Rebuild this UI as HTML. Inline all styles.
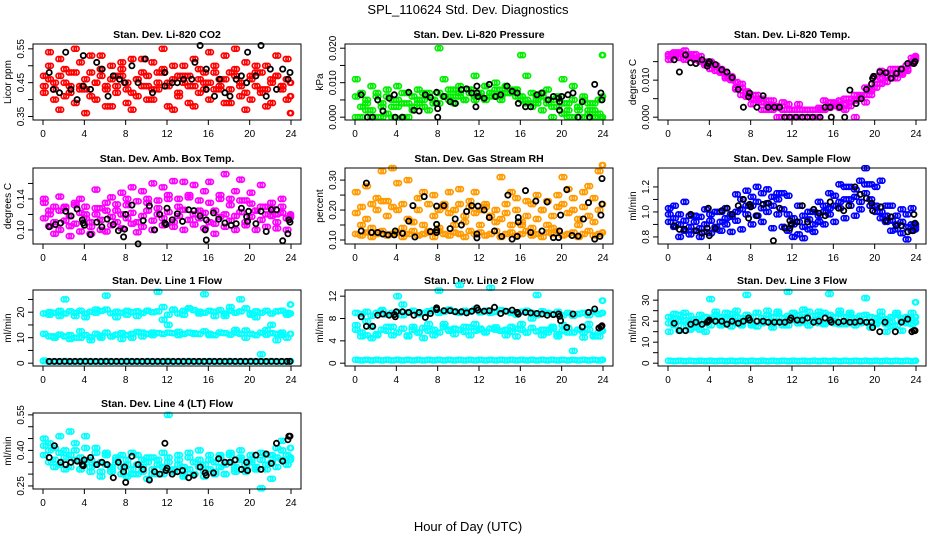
<!DOCTYPE html>
<html><head><meta charset="utf-8"><style>
html,body{margin:0;padding:0;background:#fff;}
svg{display:block;font-family:"Liberation Sans",sans-serif;}
</style></head><body>
<svg id="chart" width="936" height="540" viewBox="0 0 936 540" xmlns="http://www.w3.org/2000/svg">
<rect width="936" height="540" fill="#fff"/>
<text x="468" y="14" font-size="13" text-anchor="middle">SPL_110624  Std. Dev. Diagnostics</text>
<text x="468" y="531" font-size="13" text-anchor="middle">Hour of Day (UTC)</text>
</svg>
<script>
const H=[0,0.5,1,1.5,2,2.5,3,3.5,4,4.5,5,5.5,6,6.5,7,7.5,8,8.5,9,9.5,10,10.5,11,11.5,12,12.5,13,13.5,14,14.5,15,15.5,16,16.5,17,17.5,18,18.5,19,19.5,20,20.5,21,21.5,22,22.5,23,23.5,24];
const H2=[0.25,0.75,1.25,1.75,2.25,2.75,3.25,3.75,4.25,4.75,5.25,5.75,6.25,6.75,7.25,7.75,8.25,8.75,9.25,9.75,10.25,10.75,11.25,11.75,12.25,12.75,13.25,13.75,14.25,14.75,15.25,15.75,16.25,16.75,17.25,17.75,18.25,18.75,19.25,19.75,20.25,20.75,21.25,21.75,22.25,22.75,23.25,23.75,23.9];
const xTicks=[0,4,8,12,16,20,24];

const co2A=[0.44,0.46,0.43,0.47,0.45,0.42,0.48,0.44,0.46,0.41,0.45,0.47,0.43,0.46,0.44,0.49,0.45,0.42,0.46,0.44,0.47,0.43,0.45,0.48,0.44,0.46,0.42,0.45,0.47,0.44,0.46,0.43,0.45,0.48,0.44,0.46,0.43,0.47,0.45,0.42,0.46,0.44,0.48,0.43,0.45,0.47,0.44,0.46,0.45];
const co2B=[0.42,0.50,0.40,0.52,0.41,0.48,0.39,0.51,0.43,0.53,0.40,0.49,0.38,0.50,0.42,0.47,0.39,0.52,0.41,0.48,0.40,0.51,0.43,0.49,0.38,0.50,0.41,0.47,0.39,0.52,0.42,0.48,0.40,0.50,0.43,0.53,0.39,0.49,0.41,0.51,0.40,0.48,0.42,0.50,0.39,0.47,0.43,0.52,0.41];
const co2C=[0.47,0.54,0.45,0.37,0.49,0.44,0.55,0.43,0.36,0.48,0.45,0.53,0.44,0.38,0.47,0.51,0.43,0.37,0.46,0.52,0.44,0.40,0.48,0.55,0.45,0.37,0.47,0.50,0.44,0.38,0.49,0.45,0.54,0.43,0.46,0.39,0.48,0.55,0.44,0.37,0.47,0.50,0.43,0.38,0.46,0.53,0.44,0.40,0.36];
const co2Black=[[0.6,0.48],[1.0,0.43],[1.6,0.42],[2.2,0.54],[2.7,0.43],[3.3,0.40],[3.9,0.53],[3.9,0.44],[4.6,0.43],[5.2,0.51],[5.7,0.49],[6.3,0.41],[6.8,0.47],[7.4,0.46],[7.9,0.45],[8.6,0.50],[9.2,0.45],[9.9,0.52],[10.6,0.42],[11.8,0.48],[11.8,0.44],[12.5,0.45],[13.0,0.45],[13.6,0.46],[14.4,0.46],[14.7,0.51],[15.2,0.56],[15.8,0.43],[15.8,0.49],[16.6,0.41],[17.1,0.46],[17.6,0.42],[18.1,0.41],[18.7,0.46],[19.2,0.47],[19.7,0.45],[19.8,0.54],[20.6,0.47],[21.1,0.56],[21.6,0.41],[22.0,0.49],[22.6,0.43],[23.2,0.49],[23.7,0.46],[23.9,0.48]];

const presA=[0.006,0.003,0.005,0.002,0.007,0.004,0.006,0.003,0.005,0.007,0.004,0.006,0.005,0.007,0.006,0.005,0.007,0.006,0.008,0.006,0.007,0.005,0.008,0.006,0.007,0.009,0.007,0.008,0.006,0.009,0.007,0.008,0.006,0.005,0.007,0.004,0.006,0.005,0.003,0.006,0.004,0.002,0.005,0.003,0.006,0.004,0.002,0.005,0.006];
const presB=[0,0,0.002,0,0,0,0.001,0,0.003,0,0,0.002,0.004,0.003,0.002,0.005,0.004,0.006,0.005,0.004,0.006,0.005,0.007,0.005,0.006,0.005,0.007,0.006,0.005,0.007,0.008,0.006,0.005,0.004,0.003,0.005,0.002,0.004,0,0.003,0.001,0,0,0.002,0,0.001,0,0,0];
const presC=[0.011,0.007,0.004,0.009,0.006,0.003,0.008,0.005,0.009,0.004,0.007,0.003,0.008,0.005,0.007,0.004,0.020,0.011,0.006,0.008,0.009,0.005,0.008,0.012,0.007,0.009,0.006,0.010,0.008,0.009,0.007,0.008,0.018,0.012,0.004,0.006,0.007,0.008,0.005,0.006,0.011,0.004,0.009,0.003,0.005,0.002,0.004,0.001,0.018];
const presBlack=[[0.6,0.0065],[1.2,0],[1.7,0],[2.2,0.005],[2.7,0.0018],[3.3,0.0055],[3.8,0.0065],[3.9,0],[4.6,0],[5.2,0.0072],[5.7,0.002],[6.2,0.0018],[6.8,0.0065],[7.3,0.0057],[7.9,0.0072],[7.9,0.004],[8.0,0.0025],[8.0,0],[8.6,0.006],[9.2,0.0045],[9.7,0.004],[10.3,0.008],[10.8,0.0082],[11.3,0.007],[11.7,0.003],[11.8,0.007],[11.8,0.009],[11.9,0.006],[12.5,0.0055],[13.0,0.0095],[13.6,0.006],[14.1,0.0065],[14.7,0.009],[15.2,0.0075],[15.7,0.007],[15.8,0.004],[16.5,0.003],[17.0,0.003],[17.6,0.0065],[18.1,0.007],[18.7,0.005],[19.2,0.006],[19.7,0.0055],[19.8,0.0045],[19.8,0.002],[20.0,0.006],[20.6,0.0065],[21.1,0.007],[21.6,0],[22.0,0.0045],[22.7,0],[23.2,0.0095],[23.8,0.007],[23.9,0.005]];

const tempA=[0.0165,0.017,0.016,0.017,0.0165,0.016,0.0155,0.015,0.0145,0.014,0.013,0.012,0.011,0.0095,0.008,0.007,0.006,0.005,0.004,0.0035,0.003,0.0025,0.002,0.002,0.002,0.002,0.002,0.002,0.002,0.002,0.002,0.0025,0.003,0.003,0.0035,0.004,0.0045,0.005,0.006,0.0075,0.009,0.0105,0.011,0.0115,0.012,0.013,0.014,0.0145,0.0155];
const tempB=[0.0155,0.0175,0.017,0.018,0.016,0.017,0.015,0.0145,0.013,0.0135,0.012,0.011,0.0105,0.008,0.009,0.0065,0.005,0.0045,0.005,0.002,0.0045,0,0,0,0,0,0,0,0,0,0.0045,0.003,0.004,0.0025,0.005,0.003,0,0.006,0.004,0.007,0.008,0.009,0.012,0.0105,0.013,0.0115,0.0125,0.015,0.016];
const tempC=[0.017,0.0165,0.0175,0.0155,0.017,0.0155,0.0165,0.014,0.015,0.0125,0.0125,0.0105,0.01,0.0075,0.006,0.0055,0.0035,0.006,0.002,0.0045,0.002,0.003,0.004,0.0035,0.002,0.0035,0.002,0.002,0,0.0025,0.002,0.004,0.0035,0.0045,0.002,0.005,0.006,0.0055,0.008,0.006,0.011,0.0125,0.0095,0.013,0.0105,0.012,0.013,0.016,0.0165];
const tempBlack=[[0.6,0.0155],[1.1,0.0122],[1.7,0.0168],[2.2,0.0147],[2.7,0.0145],[3.3,0.0155],[3.8,0.0138],[3.9,0.0145],[4.0,0.015],[4.6,0.0142],[5.2,0.0128],[5.7,0.0122],[6.2,0.0107],[6.8,0.0075],[7.3,0.0027],[7.8,0.0055],[7.9,0.0065],[8.6,0.0027],[9.2,0.0058],[9.7,0.0027],[10.3,0.0027],[10.8,0.0027],[11.3,0],[11.8,0],[12.4,0],[13.0,0],[13.5,0],[14.0,0],[14.7,0],[15.2,0.0027],[15.7,0.0027],[15.8,0],[16.6,0.0027],[17.1,0],[17.6,0.0073],[18.2,0.0037],[18.7,0.005],[19.2,0.0075],[19.7,0.009],[19.8,0.0105],[19.9,0.011],[20.5,0.0122],[21.1,0.012],[21.6,0.0105],[22.1,0.0118],[22.6,0.013],[23.2,0.0145],[23.8,0.0145],[23.9,0.015]];

const ambA=[0.115,0.12,0.11,0.125,0.112,0.118,0.108,0.122,0.115,0.11,0.12,0.113,0.125,0.117,0.11,0.12,0.115,0.122,0.11,0.118,0.125,0.112,0.12,0.115,0.123,0.11,0.118,0.126,0.113,0.12,0.115,0.122,0.11,0.125,0.117,0.12,0.112,0.118,0.123,0.11,0.117,0.125,0.113,0.12,0.118,0.11,0.122,0.115,0.118];
const ambB=[0.135,0.105,0.13,0.1,0.128,0.105,0.132,0.098,0.13,0.104,0.128,0.1,0.135,0.106,0.133,0.102,0.14,0.108,0.137,0.104,0.14,0.1,0.138,0.106,0.145,0.104,0.14,0.1,0.142,0.107,0.138,0.102,0.135,0.108,0.14,0.104,0.132,0.1,0.138,0.106,0.134,0.1,0.13,0.104,0.128,0.102,0.13,0.1,0.116];
const ambC=[0.14,0.125,0.095,0.143,0.13,0.092,0.135,0.14,0.12,0.095,0.152,0.128,0.098,0.142,0.125,0.148,0.132,0.155,0.097,0.15,0.135,0.16,0.128,0.155,0.14,0.163,0.13,0.162,0.145,0.158,0.125,0.15,0.162,0.095,0.145,0.172,0.14,0.15,0.165,0.138,0.148,0.125,0.158,0.13,0.135,0.12,0.14,0.115,0.12];
const ambBlack=[[0.6,0.104],[1.2,0.107],[1.7,0.109],[2.2,0.124],[2.7,0.118],[3.3,0.127],[3.8,0.113],[3.9,0.109],[4.0,0.106],[4.6,0.094],[5.2,0.11],[5.7,0.104],[6.2,0.114],[6.8,0.107],[7.3,0.099],[7.8,0.091],[7.9,0.101],[8.0,0.12],[8.6,0.132],[9.2,0.082],[9.7,0.112],[10.3,0.131],[10.8,0.1],[11.3,0.12],[11.8,0.109],[11.9,0.107],[12.0,0.128],[12.5,0.113],[13.0,0.121],[13.5,0.111],[14.1,0.126],[14.6,0.125],[15.2,0.118],[15.7,0.1],[15.8,0.087],[15.8,0.113],[16.5,0.122],[17.0,0.114],[17.6,0.109],[18.2,0.106],[18.7,0.108],[19.2,0.128],[19.7,0.117],[19.8,0.111],[19.9,0.124],[20.6,0.108],[21.1,0.124],[21.6,0.098],[22.1,0.126],[22.6,0.126],[23.2,0.086],[23.7,0.095],[23.8,0.113],[23.9,0.11]];

const rhA=[0.12,0.115,0.125,0.11,0.12,0.13,0.115,0.12,0.125,0.11,0.12,0.13,0.115,0.12,0.125,0.11,0.13,0.12,0.115,0.125,0.12,0.11,0.13,0.12,0.125,0.115,0.12,0.13,0.11,0.12,0.125,0.115,0.12,0.13,0.115,0.12,0.11,0.125,0.12,0.13,0.115,0.12,0.125,0.11,0.12,0.13,0.115,0.12,0.125];
const rhB=[0.19,0.21,0.17,0.22,0.2,0.23,0.18,0.21,0.2,0.22,0.17,0.16,0.2,0.15,0.22,0.18,0.2,0.21,0.19,0.2,0.22,0.18,0.21,0.19,0.2,0.21,0.18,0.2,0.17,0.19,0.15,0.2,0.16,0.18,0.22,0.17,0.2,0.15,0.18,0.21,0.22,0.19,0.2,0.17,0.21,0.18,0.16,0.2,0.22];
const rhC=[0.26,0.15,0.28,0.14,0.24,0.33,0.23,0.34,0.29,0.14,0.3,0.16,0.24,0.26,0.13,0.25,0.14,0.22,0.26,0.15,0.27,0.16,0.23,0.26,0.15,0.22,0.18,0.16,0.31,0.22,0.26,0.24,0.15,0.23,0.14,0.25,0.2,0.23,0.14,0.25,0.31,0.27,0.24,0.15,0.26,0.28,0.24,0.33,0.35];
const rhBlack=[[0.6,0.13],[1.1,0.29],[1.6,0.125],[2.2,0.125],[2.7,0.12],[3.2,0.117],[3.8,0.117],[3.9,0.13],[4.6,0.122],[5.2,0.163],[5.8,0.11],[5.6,0.215],[6.7,0.245],[7.3,0.128],[7.9,0.125],[7.9,0.133],[7.9,0.152],[7.9,0.213],[8.6,0.215],[9.2,0.138],[9.7,0.17],[10.3,0.15],[10.8,0.195],[11.3,0.215],[11.8,0.12],[11.8,0.107],[11.9,0.213],[12.5,0.2],[13.0,0.175],[13.5,0.13],[14.2,0.112],[14.8,0.25],[15.2,0.103],[15.7,0.112],[15.8,0.175],[15.8,0.16],[16.5,0.265],[17.0,0.125],[17.5,0.23],[18.1,0.13],[18.6,0.227],[19.2,0.108],[19.7,0.108],[19.8,0.13],[19.9,0.183],[20.5,0.268],[21.0,0.115],[21.6,0.113],[22.1,0.17],[22.6,0.225],[23.2,0.103],[23.7,0.112],[23.8,0.183],[23.9,0.22],[23.9,0.305]];

const sfA=[0.98,0.95,0.9,0.93,0.88,0.92,0.87,0.9,0.93,0.88,0.92,0.95,0.98,1.0,1.02,1.05,1.05,1.08,1.03,1.07,1.05,1.1,1.02,0.98,0.9,0.92,0.88,0.94,0.9,0.97,1.0,1.03,1.05,1.08,1.1,1.1,1.12,1.08,1.15,1.1,1.05,1.0,0.97,0.93,0.9,0.92,0.88,0.9,0.9];
const sfB=[1.03,0.88,0.98,0.85,0.97,0.85,0.96,0.84,0.98,0.86,1.0,0.9,0.96,0.93,1.1,0.98,1.12,0.97,1.15,1.0,1.12,0.98,1.15,0.85,0.95,0.82,0.97,0.86,1.0,0.92,1.05,0.98,1.13,1.03,1.2,1.05,1.18,1.02,1.22,1.05,1.2,0.95,1.05,0.85,0.97,0.83,0.98,0.85,0.88];
const sfC=[0.92,1.05,0.8,1.08,0.82,0.97,0.8,1.02,0.83,1.0,0.85,1.03,0.84,1.14,0.86,1.17,0.9,1.2,0.92,1.18,0.87,1.15,0.88,1.13,0.8,1.05,0.79,1.0,0.84,1.08,0.9,1.15,0.92,1.22,0.95,1.2,0.97,1.25,1.35,1.22,1.0,1.25,0.92,1.05,0.86,1.02,0.78,1.03,0.86];
const sfBlack=[[0.6,0.89],[1.1,0.86],[1.6,0.86],[2.2,0.98],[2.7,0.85],[3.3,0.83],[3.8,0.87],[3.9,1.03],[4.0,0.81],[4.6,0.87],[5.2,1.01],[5.7,1.03],[6.2,0.98],[6.8,1.05],[7.3,1.1],[7.8,0.95],[7.9,1.06],[8.0,1.04],[8.6,0.97],[9.2,1.06],[9.7,1.07],[10.2,0.77],[10.8,1.03],[11.3,0.87],[11.8,0.93],[11.8,0.87],[11.9,0.9],[12.5,0.92],[13.0,1.05],[13.5,0.92],[14.1,1.02],[14.6,0.99],[15.2,0.97],[15.7,1.08],[16.5,1.03],[17.0,1.01],[17.5,1.05],[18.1,1.2],[18.6,1.14],[19.2,1.11],[19.7,1.07],[19.8,1.01],[20.6,1.04],[21.1,0.93],[21.6,0.96],[22.1,0.89],[22.6,0.89],[23.2,0.84],[23.7,0.85],[23.8,0.98],[23.9,0.91]];

const l1A=[19.5,20,19.8,20.5,19.5,20.3,19.8,20.6,19.5,20.2,19.8,20.5,21,19.6,20.2,19.8,20.5,20,20.3,19.7,20.6,20,20.3,22,19,21,19.5,20.5,21.5,20.8,20.2,19.8,20.5,20.2,20.8,19.5,20.5,19.8,20.3,21.5,19.6,20.3,19.8,20.5,19.5,20.3,20.6,19.8,19.5];
const l1B=[11.5,10.5,10,11.2,10.5,11,10,12.5,11,10.2,11.5,10.8,12,10.5,11.2,11.8,11,11.5,12.2,12,11.5,12,11.8,11.5,12,11.8,12.3,11.5,12,11.8,11.5,12.5,11.5,11,12,11.8,11.2,12,11.5,12.8,11.5,11,12,11.2,11.8,11.5,11,10,11.5];
const l1C=[1,19,10.5,18.5,25,9.5,18.5,10,18,9,21,10,26.5,10.5,18,9.5,19,10,18.5,10.5,20.5,11,28,17,15,21,11,19,21.5,11.5,19.5,27,11,18.5,12,18.5,22,13,25,10,19,18,3.5,13,15,9,12,19,23];
const l1Zero=[0.8,0.6,0.7,0.6,0.8,0.6,0.7,0.6,0.8,0.6,0.7,0.6,0.8,0.6,0.7,0.6,0.8,0.6,0.7,0.6,0.8,0.6,0.7,0.6,0.8,0.6,0.7,0.6,0.8,0.6,0.7,0.6,0.8,0.6,0.7,0.6,0.8,0.6,0.7,0.6,0.8,0.6,0.7,0.6,0.8,0.6,0.7,0.6,0.8];
const l1Black=[[0.6,0.7],[1.1,0.7],[1.6,0.7],[2.1,0.7],[2.6,0.7],[3.1,0.7],[3.6,0.7],[4.1,0.7],[4.6,0.7],[5.1,0.7],[5.6,0.7],[6.1,0.7],[6.6,0.7],[7.1,0.7],[7.6,0.7],[8.1,0.7],[8.6,0.7],[9.1,0.7],[9.6,0.7],[10.1,0.7],[10.6,0.7],[11.1,0.7],[11.6,0.7],[12.1,0.7],[12.6,0.7],[13.1,0.7],[13.6,0.7],[14.1,0.7],[14.6,0.7],[15.1,0.7],[15.6,0.7],[16.1,0.7],[16.6,0.7],[17.1,0.7],[17.6,0.7],[18.1,0.7],[18.6,0.7],[19.1,0.7],[19.6,0.7],[20.1,0.7],[20.6,0.7],[21.1,0.7],[21.6,0.7],[22.1,0.7],[22.6,0.7],[23.1,0.7],[23.6,0.7],[23.9,0.7]];

const l2A=[9,8.8,9.2,8.5,9,9.3,8.7,9,9.2,8.6,9.1,9.4,8.8,9,9.3,9.5,9,9.2,9.6,9.3,9,9.4,9.2,9.6,9.1,9.4,9,9.2,9.5,9.3,9,8.7,9.2,9.4,9,8.6,9.3,9,8.8,9.2,8.6,9,8.5,8.8,9,8.6,9.2,8.8,9];
const l2B=[6,5.5,5,6.5,5.2,6,5.8,6.5,5.5,6.2,5,6,5.5,6.3,5.8,6,5.5,6.5,5.8,6.2,6,5.6,6.4,5.8,6,5.6,6.2,6.4,5.8,6,5.6,6.2,6,5.5,6.3,5.7,6,5.5,6.2,5.2,5.8,6.3,5.5,6,5.5,6,4.8,5.5,5.8];
const l2C=[6.8,4.8,7.5,4.5,5,9.5,6.5,5,12,10.5,4.8,6.5,5.5,4.5,7,5,13,7,6,5.2,14,6.5,5,7,6.2,5.5,13.5,6,5.8,5,6.5,4.8,7,5.5,8,12.2,5,6,6.5,4.8,6.8,5.5,2.2,6,4.6,7,5,4.8,11.2];
const l2Zero=[0.6,0.5,0.6,0.5,0.6,0.5,0.6,0.5,0.6,0.5,0.6,0.5,0.6,0.5,0.6,0.5,0.6,0.5,0.6,0.5,0.6,0.5,0.6,0.5,0.6,0.5,0.6,0.5,0.6,0.5,0.6,0.5,0.6,0.5,0.6,0.5,0.6,0.5,0.6,0.5,0.6,0.5,0.6,0.5,0.6,0.5,0.6,0.5,0.6];
const l2Black=[[0.6,8.3],[1.1,6.6],[1.7,6.6],[2.2,8.6],[2.7,8.8],[3.3,8.6],[3.8,8.7],[3.9,8.3],[4.0,9.2],[4.6,9.2],[5.2,9.1],[5.7,8.6],[6.2,9.1],[6.8,8.2],[7.3,8.9],[7.9,9.6],[7.9,9.9],[8.6,9.4],[9.2,9.4],[9.7,9.2],[10.3,9.2],[10.8,9.0],[11.3,9.3],[11.8,9.9],[11.9,9.5],[12.5,9.3],[13.0,9.4],[13.5,10],[14.1,8.9],[14.6,9.3],[15.2,9.5],[15.7,9.1],[15.8,8.8],[16.5,9.1],[17.0,9],[17.6,8.9],[18.1,8.8],[18.6,8.6],[19.2,8.7],[19.7,8.8],[19.8,8.4],[19.9,7.6],[20.5,6.4],[21.1,8.8],[22.0,6.5],[22.6,9.1],[23.2,9.7],[23.6,6.3],[23.8,6.5],[23.9,6.7]];

const l3A=[22,21,23,20.5,22.5,21,23,22,21.5,23,22,21,23.5,22,21.5,23,22,24,21.5,23,22,23.5,21.5,22.5,24,23,22,24.5,22.5,23,24,23,22,23.5,22,23,21.5,22.5,23,22,21.5,22.5,21,22,23,21.5,22,21,22];
const l3B=[19,18,20,17.5,19.5,18.5,20,19,18,20,19,18.5,20.5,19,18,20.5,19,17.5,20,19.5,18.5,20,19,18,20.5,19,19.5,18,20,19,18.5,20,19,18.5,20,19,18,20,19.5,18,19,20,18.5,19.5,18,20,19,18.5,19.5];
const l3C=[15,23.5,15.5,24,16,17,16,15,30.5,24.5,18,24,17.5,25,19,32.5,18,24,19,25,17,24.5,18,34,24,19,25.5,18,20,24.5,19,33,19,25,18.5,24,20,19,31,17,18.5,24.5,15,17.5,24,15.5,19,24,29];
const l3Zero=[1.2,1,1.2,1,1.2,1,1.2,1,1.2,1,1.2,1,1.2,1,1.2,1,1.2,1,1.2,1,1.2,1,1.2,1,1.2,1,1.2,1,1.2,1,1.2,1,1.2,1,1.2,1,1.2,1,1.2,1,1.2,1,1.2,1,1.2,1,1.2,1,1.2];
const l3Black=[[0.6,19],[1.1,15.5],[1.7,15.5],[2.2,18.5],[2.7,19.5],[3.3,18.5],[3.8,19.5],[3.9,20],[4.0,20.5],[4.6,20],[5.2,20],[5.7,18.5],[6.2,20],[6.8,19],[7.3,20],[7.8,21.5],[7.9,20.5],[8.6,20],[9.2,20],[9.7,19.5],[10.3,19.5],[10.8,19.5],[11.3,19.5],[11.8,20.5],[11.9,21.5],[12.5,20.5],[13.0,20.5],[13.5,21.5],[14.1,19.5],[14.6,20],[15.2,21.5],[15.7,20.5],[15.8,19.5],[16.5,19.5],[17.0,20],[17.6,19.5],[18.1,19.5],[18.6,20],[19.2,19.5],[19.7,19.5],[19.8,17],[20.5,15],[21.0,19.5],[22.0,15],[22.6,19.5],[23.2,21],[23.6,15],[23.8,15.5],[23.9,15.5]];

const l4A=[0.38,0.4,0.36,0.39,0.37,0.38,0.36,0.37,0.35,0.36,0.34,0.35,0.34,0.33,0.35,0.33,0.34,0.32,0.34,0.33,0.35,0.32,0.34,0.33,0.35,0.32,0.34,0.33,0.32,0.35,0.33,0.34,0.32,0.35,0.33,0.34,0.35,0.33,0.36,0.34,0.35,0.33,0.36,0.34,0.35,0.37,0.36,0.38,0.37];
const l4B=[0.42,0.35,0.41,0.34,0.4,0.33,0.4,0.32,0.41,0.33,0.39,0.31,0.38,0.31,0.37,0.3,0.36,0.3,0.38,0.31,0.37,0.3,0.36,0.3,0.37,0.31,0.36,0.3,0.37,0.3,0.36,0.31,0.38,0.31,0.37,0.3,0.38,0.32,0.37,0.31,0.38,0.32,0.39,0.32,0.38,0.33,0.4,0.34,0.41];
const l4C=[0.45,0.43,0.33,0.46,0.32,0.48,0.43,0.32,0.46,0.31,0.41,0.29,0.39,0.32,0.36,0.38,0.29,0.39,0.3,0.36,0.28,0.37,0.3,0.39,0.55,0.31,0.38,0.29,0.39,0.3,0.4,0.29,0.36,0.3,0.38,0.3,0.39,0.31,0.4,0.32,0.36,0.32,0.24,0.38,0.28,0.41,0.44,0.34,0.36];
const l4Black=[[0.6,0.37],[1.1,0.42],[1.7,0.35],[2.2,0.34],[2.7,0.35],[3.3,0.355],[3.8,0.34],[3.9,0.335],[4.0,0.36],[4.6,0.37],[5.2,0.34],[5.7,0.35],[6.2,0.34],[6.8,0.285],[7.3,0.35],[7.8,0.31],[7.9,0.33],[8.0,0.265],[8.6,0.375],[9.2,0.34],[9.7,0.32],[10.3,0.275],[10.8,0.31],[11.3,0.3],[11.8,0.43],[11.9,0.315],[12.0,0.325],[12.5,0.3],[13.0,0.31],[13.5,0.315],[14.1,0.285],[14.6,0.295],[15.2,0.33],[15.7,0.305],[15.8,0.295],[16.5,0.305],[17.0,0.365],[17.6,0.35],[18.1,0.35],[18.6,0.36],[19.2,0.32],[19.7,0.35],[19.8,0.315],[20.6,0.38],[21.1,0.32],[21.6,0.385],[22.1,0.345],[22.6,0.43],[23.2,0.355],[23.7,0.445],[23.8,0.46],[23.9,0.46]];

const co2YTicks=[0.35,0.40,0.45,0.50,0.55], co2YLabels=["0.35","","0.45","","0.55"];
const presYTicks=[0,0.005,0.01,0.015,0.02], presYLabels=["0.000","","0.010","","0.020"];
const tempYTicks=[0,0.005,0.01,0.015], tempYLabels=["0.000","","0.010",""];
const ambYTicks=[0.10,0.12,0.14,0.16], ambYLabels=["0.10","","0.14",""];
const rhYTicks=[0.10,0.15,0.20,0.25,0.30], rhYLabels=["0.10","","0.20","","0.30"];
const sfYTicks=[0.8,0.9,1.0,1.1,1.2], sfYLabels=["0.8","","1.0","","1.2"];
const l1YTicks=[0,5,10,15,20,25], l1YLabels=["0","","10","","20",""];
const l2YTicks=[0,4,8,12], l2YLabels=["0","4","8","12"];
const l3YTicks=[0,5,10,15,20,25,30], l3YLabels=["0","","10","","20","","30"];
const l4YTicks=[0.25,0.30,0.35,0.40,0.45,0.50,0.55], l4YLabels=["0.25","","","0.40","","","0.55"];

const svg=document.getElementById('chart');
const NS='http://www.w3.org/2000/svg';
function mk(tag,attrs,parent){const e=document.createElementNS(NS,tag);for(const k in attrs)e.setAttribute(k,attrs[k]);(parent||svg).appendChild(e);return e;}

const panels=[
 {key:'co2',title:'Stan. Dev. Li-820 CO2',ylab:'Licor ppm',col:0,row:0,ylim:[0.348,0.556],ticks:co2YTicks,labels:co2YLabels,color:'#ff0000',series:[co2A,co2B,co2C],black:co2Black},
 {key:'pressure',title:'Stan. Dev. Li-820 Pressure',ylab:'kPa',col:1,row:0,ylim:[0,0.0204],ticks:presYTicks,labels:presYLabels,color:'#00ee00',series:[presA,presB,presC],black:presBlack},
 {key:'temp',title:'Stan. Dev. Li-820 Temp.',ylab:'degrees C',col:2,row:0,ylim:[0,0.019],ticks:tempYTicks,labels:tempYLabels,color:'#ff00ff',series:[tempA,tempB,tempC],black:tempBlack},
 {key:'amb-box',title:'Stan. Dev. Amb. Box Temp.',ylab:'degrees C',col:0,row:1,ylim:[0.0855,0.1763],ticks:ambYTicks,labels:ambYLabels,color:'#ff00ff',series:[ambA,ambB,ambC],black:ambBlack},
 {key:'rh',title:'Stan. Dev. Gas Stream RH',ylab:'percent',col:1,row:1,ylim:[0.096,0.331],ticks:rhYTicks,labels:rhYLabels,color:'#ff9a00',series:[rhA,rhB,rhC],black:rhBlack},
 {key:'sample-flow',title:'Stan. Dev. Sample Flow',ylab:'ml/min',col:2,row:1,ylim:[0.766,1.329],ticks:sfYTicks,labels:sfYLabels,color:'#0000ff',series:[sfA,sfB,sfC],black:sfBlack},
 {key:'line1',title:'Stan. Dev. Line 1 Flow',ylab:'ml/min',col:0,row:2,ylim:[0,27.6],ticks:l1YTicks,labels:l1YLabels,color:'#00ffff',series:[l1A,l1B,l1C,l1Zero],black:l1Black},
 {key:'line2',title:'Stan. Dev. Line 2 Flow',ylab:'ml/min',col:1,row:2,ylim:[0,12.6],ticks:l2YTicks,labels:l2YLabels,color:'#00ffff',series:[l2A,l2B,l2C,l2Zero],black:l2Black},
 {key:'line3',title:'Stan. Dev. Line 3 Flow',ylab:'ml/min',col:2,row:2,ylim:[0,33.5],ticks:l3YTicks,labels:l3YLabels,color:'#00ffff',series:[l3A,l3B,l3C,l3Zero],black:l3Black},
 {key:'line4',title:'Stan. Dev. Line 4 (LT) Flow',ylab:'ml/min',col:0,row:3,ylim:[0.249,0.546],ticks:l4YTicks,labels:l4YLabels,color:'#00ffff',series:[l4A,l4B,l4C],black:l4Black}
];
const colLeft=[33,345,658], rowTop=[44,168,290,413], BW=268, BH=76;

panels.forEach(p=>{
  const L=colLeft[p.col], T=rowTop[p.row], B=T+BH;
  const g=mk('g',{});
  
  
  const xs=h=>L+10+h*248/24;
  const pad=BH*0.04/1.08;
  const ys=v=>B-pad-(v-p.ylim[0])/(p.ylim[1]-p.ylim[0])*(BH-2*pad);
  const t=mk('text',{x:L+BW/2,y:T-6,'font-size':10.5,'font-weight':'bold','text-anchor':'middle'},g);
  t.textContent=p.title;
  
  
  [H,H2].forEach(hours=>{
    p.series.forEach(s=>{
      s.forEach((v,i)=>{
        const c=mk('circle',{cx:xs(hours[i]).toFixed(1),cy:ys(v).toFixed(1),r:2.5,fill:'none',stroke:p.color,'stroke-width':1.7},g);
        
        
      });
    });
  });
  p.black.forEach(d=>{
    const c=mk('circle',{cx:xs(d[0]).toFixed(1),cy:ys(d[1]).toFixed(1),r:2.6,fill:'none',stroke:'#000','stroke-width':1.8},g);
    
    
  });
  const box=mk('rect',{x:L,y:T,width:BW,height:BH,fill:'none',stroke:'#000','stroke-width':1},g);
  
  
  mk('line',{x1:xs(0),x2:xs(24),y1:B,y2:B,stroke:'#000'},g);
  xTicks.forEach(h=>{
    mk('line',{x1:xs(h),x2:xs(h),y1:B,y2:B+5,stroke:'#000'},g);
    const tl=mk('text',{x:xs(h),y:B+17,'font-size':10,'text-anchor':'middle'},g);
    tl.textContent=String(h);
    
    
  });
  const ya=p.ticks[0], yb=p.ticks[p.ticks.length-1];
  mk('line',{x1:L,x2:L,y1:ys(ya),y2:ys(yb),stroke:'#000'},g);
  p.ticks.forEach((v,i)=>{
    mk('line',{x1:L-5,x2:L,y1:ys(v),y2:ys(v),stroke:'#000'},g);
    if(p.labels[i]){
      const yy=ys(v);
      const tl=mk('text',{x:L-9,y:yy,'font-size':10,'text-anchor':'middle',transform:'rotate(-90 '+(L-9)+' '+yy+')'},g);
      tl.textContent=p.labels[i];
      
      
    }
  });
  const yl=mk('text',{x:L-22,y:T+BH/2,'font-size':10,'text-anchor':'middle',transform:'rotate(-90 '+(L-22)+' '+(T+BH/2)+')'},g);
  yl.textContent=p.ylab;
  
  
});
</script>
</body></html>
